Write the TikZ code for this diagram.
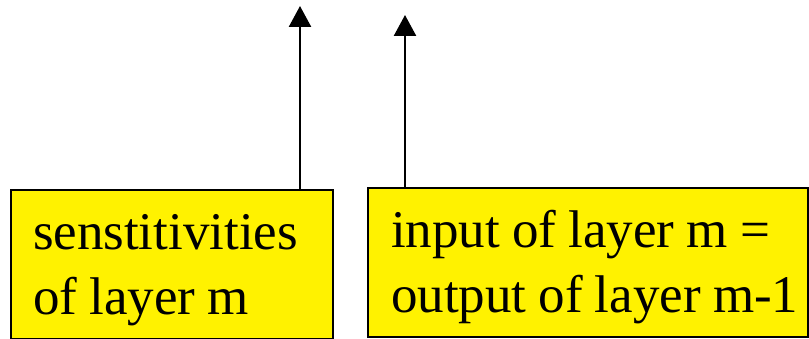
\documentclass[tikz,border=0pt]{standalone}
\usepackage{fontspec}
\setmainfont{Liberation Serif}
\usepackage{xcolor}
\usepackage{tikz}
\usetikzlibrary{arrows.meta,positioning,calc}
% fixed word gap for the box labels
\newcommand{\gap}{\hspace{0.23em}}

\begin{document}
\begin{tikzpicture}[x=1pt, y=-1pt,
    layerbox/.style={draw, line width=2.5pt, fill=yellow, anchor=north west, align=left,
        inner xsep=22pt, inner ysep=0pt, outer sep=0pt, text height=60pt, text depth=89pt,
        font=\fontsize{53}{65}\selectfont},
    arr/.style={-{Triangle[length=21pt, width=22pt]}, line width=2.5pt},
]
    \useasboundingbox (0,0) rectangle (809,339);

    \node[layerbox, text width=278pt] (sens) at (11, 190) {\mbox{senstitivities}\\\mbox{of\gap layer\gap m}};
    \node[layerbox, text width=394pt, inner xsep=23pt] (inp) at (368, 188) {\mbox{input\gap of\gap layer\gap m\gap =}\\\mbox{output\gap of\gap layer\gap m-1}};

    \coordinate (up1) at (300, 6);
    \coordinate (up2) at (405, 15);

    \draw[arr] (up1 |- sens.north) -- (up1);
    \draw[arr] (up2 |- inp.north) -- (up2);
\end{tikzpicture}
\end{document}
